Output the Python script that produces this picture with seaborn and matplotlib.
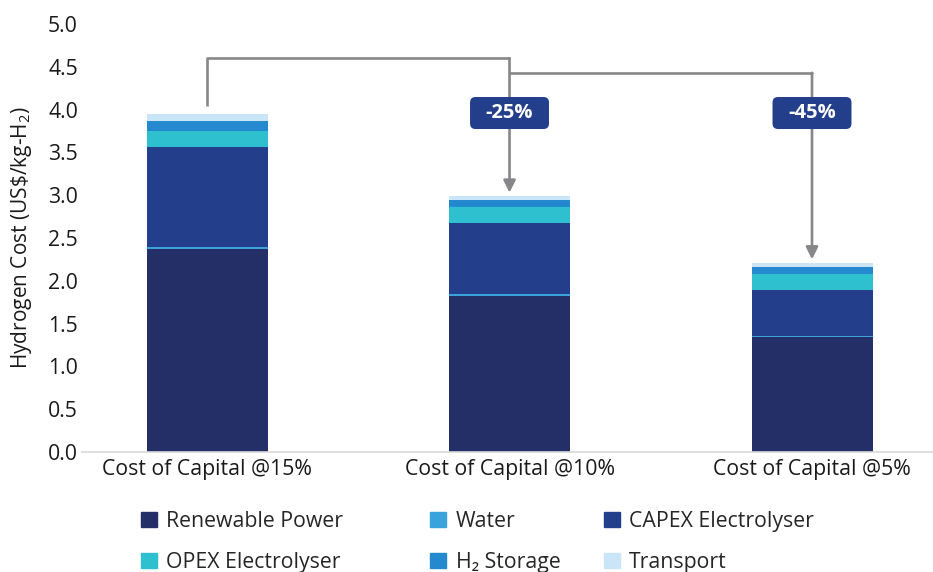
import matplotlib
matplotlib.use("Agg")
import matplotlib.pyplot as plt
from matplotlib.patches import Patch, FancyBboxPatch
import numpy as np
import pandas as pd
import seaborn as sns

scenarios = ["Cost of Capital @15%", "Cost of Capital @10%", "Cost of Capital @5%"]
components = ["Renewable Power", "Water", "CAPEX Electrolyser",
              "OPEX Electrolyser", "H\u2082 Storage", "Transport"]
renewable = [2.37, 1.82, 1.34]
water = [0.03, 0.02, 0.02]
capex = [1.16, 0.83, 0.53]
opex = [0.19, 0.19, 0.19]
storage = [0.12, 0.08, 0.08]
transport = [0.08, 0.05, 0.05]
reductions = ["-25%", "-45%"]

colors = ["#232F66", "#3AA3DC", "#233F8C", "#2EC0CF", "#2589CF", "#C9E5F7"]

sns.set_theme(style="white")
plt.rcParams["font.family"] = ["Open Sans", "DejaVu Sans"]
plt.rcParams["mathtext.fontset"] = "custom"
plt.rcParams["mathtext.rm"] = "Open Sans"
plt.rcParams["mathtext.it"] = "Open Sans"

df = pd.DataFrame({"scenario": scenarios, components[0]: renewable, components[1]: water,
                   components[2]: capex, components[3]: opex,
                   components[4]: storage, components[5]: transport})
cum = df[components].cumsum(axis=1)

fig = plt.figure(figsize=(9.33, 5.72), dpi=100)
ax = fig.add_axes([0.088, 0.21, 0.912, 0.748])

# stacked bars: draw cumulative totals from the top layer down
for comp, col in reversed(list(zip(components, colors))):
    sns.barplot(x=df["scenario"], y=cum[comp], color=col, width=0.4,
                errorbar=None, saturation=1, linewidth=0, edgecolor="none", ax=ax)

ax.set_ylim(0, 5.0)
ax.set_xlim(-0.413, 2.40)
ax.set_yticks(np.arange(0, 5.01, 0.5))
ax.set_yticklabels([f"{v:.1f}" for v in np.arange(0, 5.01, 0.5)])
ax.tick_params(axis="both", length=0, labelsize=15.3, colors="#1a1a1a")
ax.tick_params(axis="x", pad=5)
ax.tick_params(axis="y", pad=3)
ax.set_xlabel("")
ax.set_ylabel("Hydrogen Cost (US\\$/kg-H$_2$)", fontsize=15, color="#1a1a1a", labelpad=10)
for s in ["top", "right", "left"]:
    ax.spines[s].set_visible(False)
ax.spines["bottom"].set_color("#D9D9D9")
ax.spines["bottom"].set_linewidth(1.2)

# reduction brackets
totals = cum["Transport"].values
gray = "#87878A"
ax.plot([0, 0, 1], [totals[0] + 0.09, 4.60, 4.60], color=gray, lw=1.9, solid_capstyle="butt")
ax.plot([1, 2], [4.43, 4.43], color=gray, lw=1.9)
for i, lab in zip([1, 2], reductions):
    top = 4.60 if i == 1 else 4.43
    ax.annotate("", xy=(i, totals[i] + 0.04), xytext=(i, top),
                arrowprops=dict(arrowstyle="-|>,head_length=0.6,head_width=0.3",
                                color=gray, lw=1.9, shrinkA=0, shrinkB=0))
    bw, bh = 0.261, 0.374
    ax.add_patch(FancyBboxPatch((i - bw / 2, 3.96 - bh / 2), bw, bh,
                                boxstyle="round,pad=0,rounding_size=0.018",
                                mutation_aspect=3.53, fc="#233F8C", ec="none", zorder=5))
    ax.text(i, 3.96, lab, ha="center", va="center", color="white", fontsize=14.5,
            fontweight="bold", zorder=6)

# legend in three columns
handles = [Patch(color=c) for c in colors]
xs = [0.151, 0.461, 0.647]
for k, x in enumerate(xs):
    idx = [k, k + 3]
    fig.legend([handles[j] for j in idx], [components[j] for j in idx],
               loc="upper left", bbox_to_anchor=(x, 0.107), frameon=False,
               fontsize=15.3, handlelength=0.75, handleheight=0.75, handletextpad=0.45,
               labelspacing=0.95, borderaxespad=0, borderpad=0)

fig.savefig("out.png", dpi=100)
